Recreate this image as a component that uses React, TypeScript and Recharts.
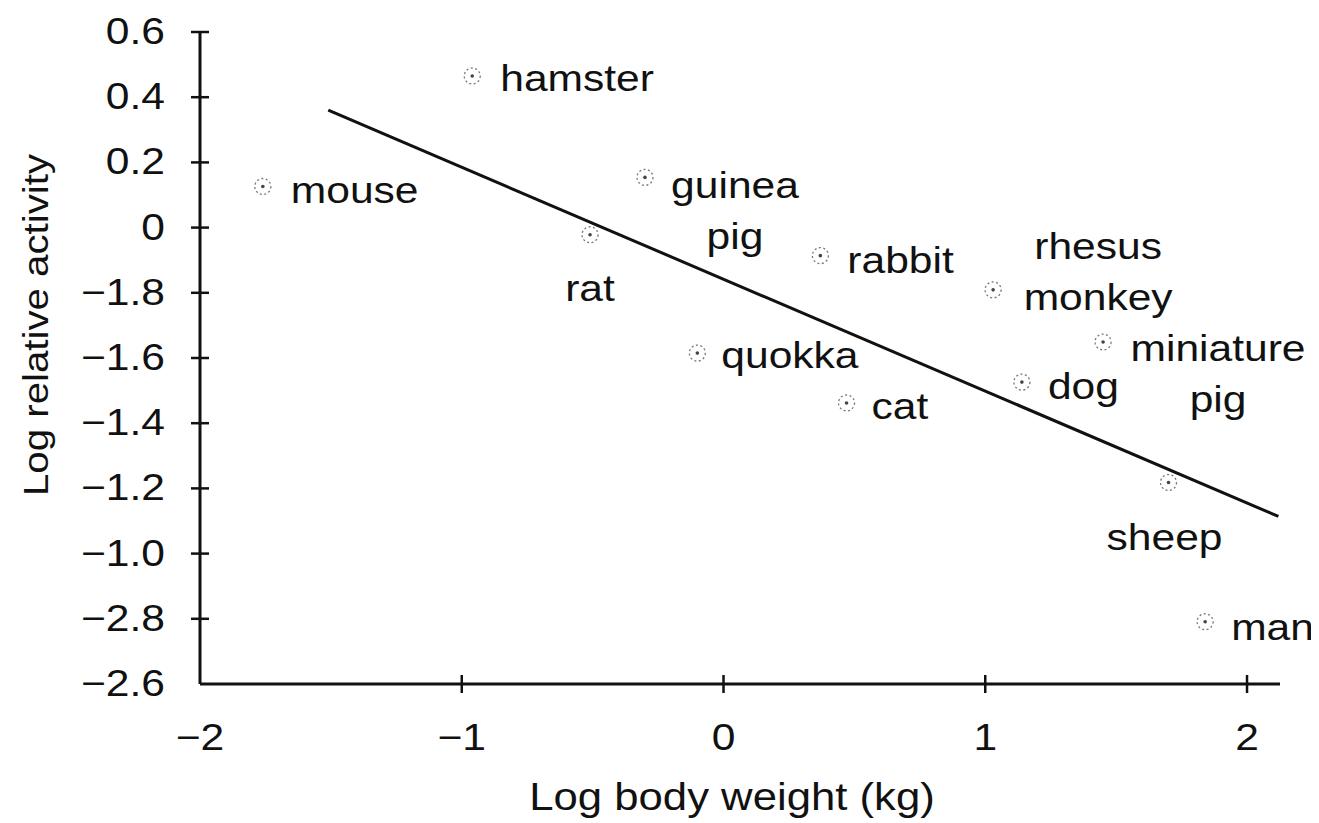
import React from 'react';
import { Label, ReferenceLine, Scatter, ScatterChart, XAxis, YAxis } from 'recharts';

// values
const animals = ['hamster', 'mouse', 'guinea pig', 'rat', 'rabbit', 'rhesus monkey', 'miniature pig', 'quokka', 'dog', 'cat', 'sheep', 'man'];
const logBodyWeight = [-0.96, -1.76, -0.3, -0.51, 0.37, 1.03, 1.45, -0.1, 1.14, 0.47, 1.7, 1.84];
const logActivity = [0.465, 0.126, 0.154, -0.022, -0.086, -0.191, -0.351, -0.385, -0.474, -0.538, -0.782, -1.209];

const xTicks = [-2, -1, 0, 1, 2];
const xTickLabels = ['−2', '−1', '0', '1', '2'];
// bar notation in the original: 1̄.8 = -0.2 etc.
const yTicks = [0.6, 0.4, 0.2, 0, -0.2, -0.4, -0.6, -0.8, -1.0, -1.2, -1.4];
const yTickLabels = ['0.6', '0.4', '0.2', '0', '−1.8', '−1.6', '−1.4', '−1.2', '−1.0', '−2.8', '−2.6'];

const fitX = [-1.51, 2.12];
const fitY = [0.36, -0.886];

const data = animals.map((name, i) => ({ name, x: logBodyWeight[i], y: logActivity[i] }));

// where each name sits relative to its point
const labelPlace: Record<string, { dx: number; dy: number; anchor: 'start' | 'middle' }> = {
  hamster: { dx: 28, dy: 15, anchor: 'start' },
  mouse: { dx: 28, dy: 16, anchor: 'start' },
  'guinea pig': { dx: 90, dy: 21, anchor: 'middle' },
  rat: { dx: 0, dy: 66, anchor: 'middle' },
  rabbit: { dx: 27, dy: 17, anchor: 'start' },
  'rhesus monkey': { dx: 105, dy: -31, anchor: 'middle' },
  'miniature pig': { dx: 115, dy: 19, anchor: 'middle' },
  quokka: { dx: 24, dy: 15, anchor: 'start' },
  dog: { dx: 26, dy: 17, anchor: 'start' },
  cat: { dx: 25, dy: 16, anchor: 'start' },
  sheep: { dx: -4, dy: 67, anchor: 'middle' },
  man: { dx: 26, dy: 18, anchor: 'start' },
};

const FONT = '"Liberation Sans", Arial, Helvetica, sans-serif';
const INK = '#111';
const STRETCH = 1.15;
const LINE_GAP = 51;

const PointWithName = (props: any) => {
  const { cx, cy, payload } = props;
  const place = labelPlace[payload.name];
  const lines = String(payload.name).split(' ');
  return (
    <g>
      <circle cx={cx} cy={cy} r={8} fill="none" stroke="#777" strokeWidth={1.3} strokeDasharray="2 2.5" />
      <circle cx={cx} cy={cy} r={1.8} fill="#444" />
      {lines.map((line, i) => (
        <text
          key={line}
          transform={`translate(${cx + place.dx},${cy + place.dy + i * LINE_GAP}) scale(${STRETCH},1)`}
          textAnchor={place.anchor}
          fontFamily={FONT}
          fontSize={37}
          fill={INK}
        >
          {line}
        </text>
      ))}
    </g>
  );
};

const XTick = (props: any) => {
  const { x, y, payload } = props;
  const idx = xTicks.findIndex((t) => Math.abs(t - payload.value) < 1e-6);
  return (
    <g>
      {idx > 0 && <line x1={x} x2={x} y1={y - 9} y2={y + 9} stroke={INK} strokeWidth={2.5} />}
      <text transform={`translate(${x},${y + 66}) scale(${STRETCH},1)`} textAnchor="middle" fontFamily={FONT} fontSize={37} fill={INK}>
        {xTickLabels[idx]}
      </text>
    </g>
  );
};

const YTick = (props: any) => {
  const { x, y, payload } = props;
  const idx = yTicks.findIndex((t) => Math.abs(t - payload.value) < 1e-6);
  return (
    <g>
      {idx < yTicks.length - 1 && <line x1={x - 9} x2={x + 9} y1={y} y2={y} stroke={INK} strokeWidth={2.5} />}
      <text transform={`translate(${x - 35},${y + 12}) scale(${STRETCH},1)`} textAnchor="end" fontFamily={FONT} fontSize={37} fill={INK}>
        {yTickLabels[idx]}
      </text>
    </g>
  );
};

const XTitle = (props: any) => {
  const { viewBox } = props;
  return (
    <text
      transform={`translate(${viewBox.x + 532},${viewBox.y + 126}) scale(${STRETCH},1)`}
      textAnchor="middle"
      fontFamily={FONT}
      fontSize={38}
      fill={INK}
    >
      Log body weight (kg)
    </text>
  );
};

const YTitle = () => (
  <text transform={`translate(40,317) rotate(-90) scale(${STRETCH},1)`} textAnchor="middle" fontFamily={FONT} fontSize={35} fill={INK}>
    Log relative activity
  </text>
);

export default function App() {
  return (
    <ScatterChart width={1311} height={815} margin={{ top: 24, right: 39, bottom: 0, left: 0 }}>
      <XAxis
        type="number"
        dataKey="x"
        domain={[-2, 2.126]}
        ticks={xTicks}
        interval={0}
        height={139}
        tickSize={0}
        tickMargin={0}
        tickLine={false}
        axisLine={{ stroke: INK, strokeWidth: 3 }}
        tick={<XTick />}
      >
        <Label content={<XTitle />} />
      </XAxis>
      <YAxis
        type="number"
        dataKey="y"
        domain={[-1.4, 0.6]}
        ticks={yTicks}
        interval={0}
        width={192}
        tickSize={0}
        tickMargin={0}
        tickLine={false}
        axisLine={{ stroke: INK, strokeWidth: 3 }}
        tick={<YTick />}
      >
        <Label content={<YTitle />} />
      </YAxis>
      <ReferenceLine
        segment={[
          { x: fitX[0], y: fitY[0] },
          { x: fitX[1], y: fitY[1] },
        ]}
        stroke={INK}
        strokeWidth={3}
        ifOverflow="visible"
      />
      <Scatter data={data} shape={<PointWithName />} isAnimationActive={false} />
    </ScatterChart>
  );
}
